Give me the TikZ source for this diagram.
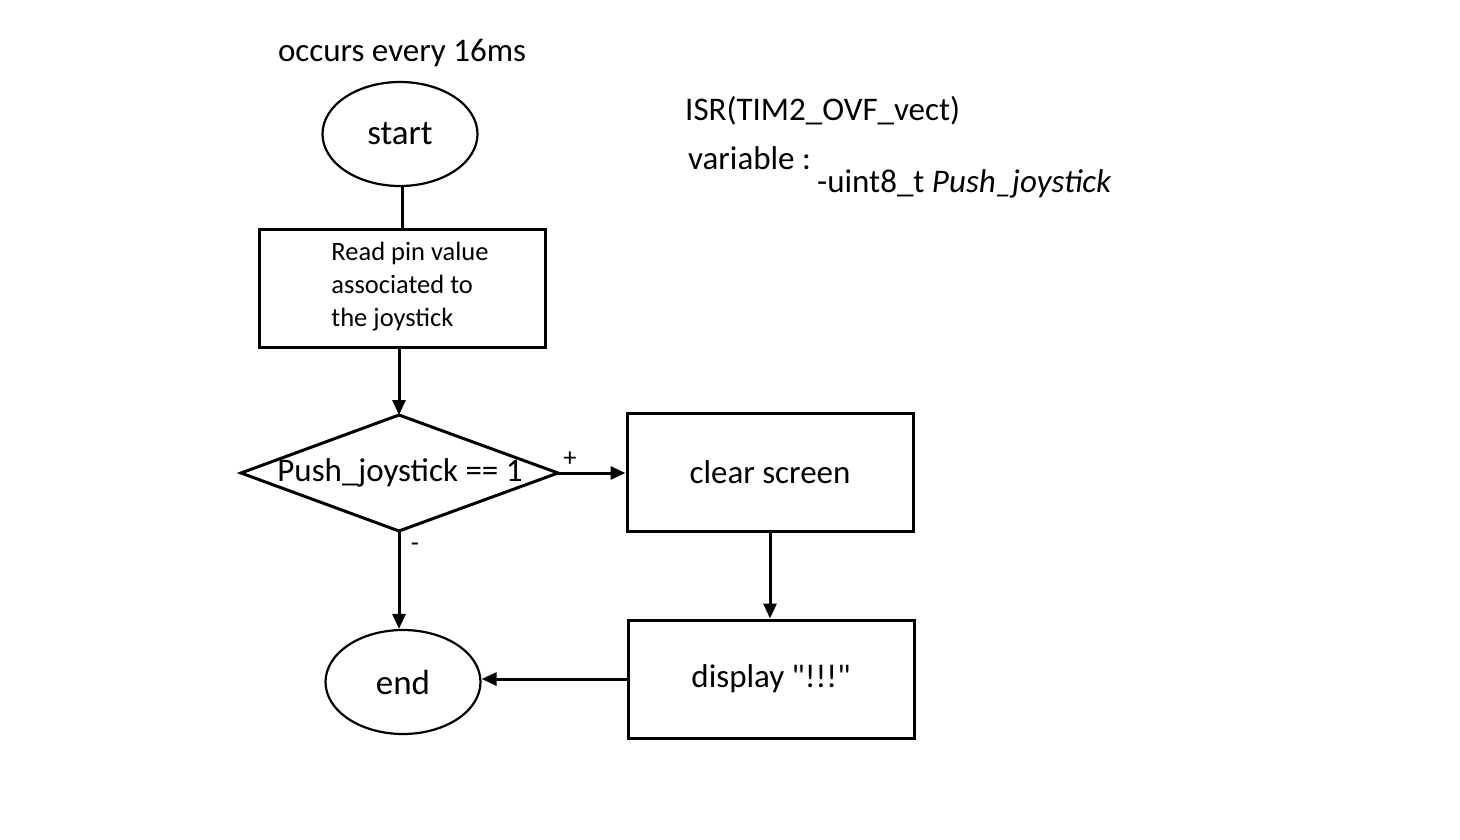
\documentclass[tikz,border=0pt]{standalone}
\usepackage{fontspec}
\setmainfont{Carlito}
\usetikzlibrary{shapes.geometric,arrows.meta}
\begin{document}
\begin{tikzpicture}[x=1pt,y=-1pt,
  big/.style={font=\fontsize{33}{38}\selectfont},
  oval/.style={draw,ellipse,line width=2.2pt,minimum width=155pt,minimum height=104pt,inner sep=0pt,font=\fontsize{35}{40}\selectfont},
  box/.style={draw,rectangle,line width=3pt,minimum width=286pt,minimum height=118pt,inner sep=0pt,font=\fontsize{33}{38}\selectfont},
  conn/.style={line width=3pt},
  arr/.style={conn,-{Triangle[length=15pt,width=13pt]}},
  small/.style={font=\fontsize{26.5}{33}\selectfont}]
\useasboundingbox (0,0) rectangle (1460,840);
\node[big] (occ) at (402,53) {occurs every 16ms};
\node[oval] (start) at (400,134) {start};
\node[box] (r1) at (402,288) {};
\node[small,align=left,inner sep=0pt] (r1t) at (410,287) {Read pin value\\associated to\\the joystick};
\coordinate (dN) at (399,415);
\coordinate (dE) at (558,473);
\coordinate (dS) at (399,531);
\coordinate (dW) at (241,473);
\draw[line width=3pt,line join=miter] (dN) -- (dE) -- (dS) -- (dW) -- cycle;
\node[big,inner sep=0pt] (d) at (400,473) {Push\_joystick == 1};
\node[box] (c) at (770,472) {clear screen};
\node[box] (disp) at (771,679) {display \textquotedbl!!!\textquotedbl};
\node[oval] (e) at (403,682) {end};
\node[big,anchor=west,inner sep=0pt] (isr) at (685,111) {ISR(TIM2\_OVF\_vect)};
\node[big,anchor=west,inner sep=0pt] (var) at (688,158) {variable :};
\node[big,anchor=west,inner sep=0pt] (u8) at (817,184) {-uint8\_t \textit{Push\_joystick}};
\draw[conn] (start.south -| r1.north) -- (r1.north);
\draw[arr] (r1.south -| dN) -- (dN);
\draw[arr] (dE) -- (c.west |- dE);
\draw[arr] (dS) -- (dS |- e.north);
\draw[arr] (c.south) -- (c.south |- disp.north);
\draw[arr] (disp.west) -- (e.east |- disp.west);
\node[small,inner sep=0pt] (plus) at (570,459) {+};
\node[small,inner sep=0pt] (minus) at (415,547) {-};
\end{tikzpicture}
\end{document}
